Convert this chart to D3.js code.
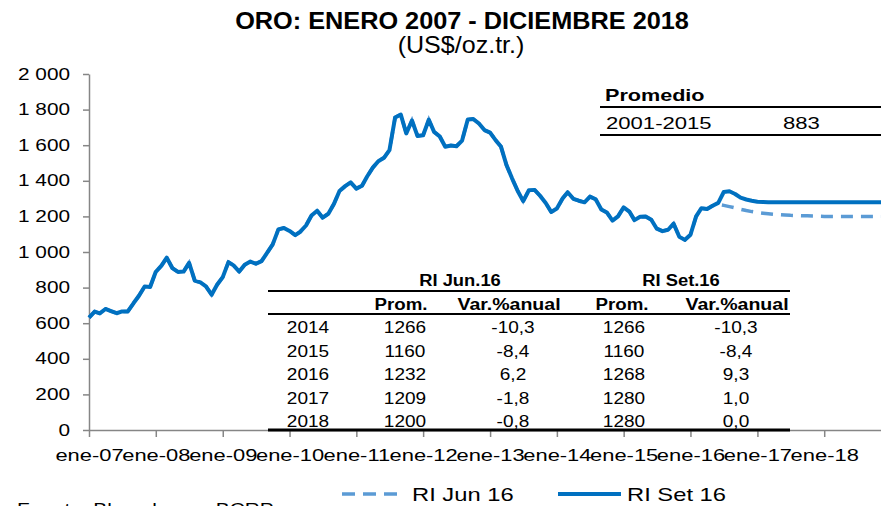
<!DOCTYPE html>
<html>
<head>
<meta charset="utf-8">
<script src="https://cdn.jsdelivr.net/npm/d3@7"></script>
<style>
body { margin: 0; background: #fff; }
svg { display: block; }
text { font-family: "Liberation Sans", Arial, sans-serif; fill: #000; }
</style>
</head>
<body>
<div id="chart"></div>
<script>
// monthly gold price, ene-07 .. ago-16 (observed)
const history = [
  631, 665, 655, 680, 668, 656, 666, 666, 712, 754, 806, 803,
  889, 923, 968, 909, 888, 890, 939, 839, 829, 807, 760, 816,
  859, 943, 925, 890, 928, 946, 934, 949, 996, 1043, 1127, 1135,
  1118, 1095, 1114, 1149, 1205, 1232, 1193, 1215, 1271, 1343, 1370, 1391,
  1356, 1372, 1424, 1474, 1510, 1529, 1572, 1756, 1772, 1666, 1739, 1652,
  1656, 1743, 1675, 1649, 1591, 1598, 1594, 1626, 1744, 1747, 1722, 1685,
  1671, 1627, 1593, 1487, 1414, 1343, 1286, 1347, 1349, 1316, 1275, 1225,
  1244, 1300, 1336, 1299, 1288, 1279, 1311, 1296, 1239, 1222, 1176, 1200,
  1251, 1227, 1179, 1198, 1199, 1181, 1131, 1117, 1125, 1159, 1086, 1068,
  1097, 1200, 1246, 1242, 1260, 1276, 1337, 1341
];
// RI Jun 16 forecast, jun-16 .. dic-18
const forecastJun = [
  1268, 1262, 1255, 1248, 1240, 1233, 1227,
  1222, 1218, 1215, 1212, 1210, 1208, 1206, 1205, 1204, 1203, 1202, 1201,
  1200, 1200, 1200, 1200, 1200, 1200, 1200, 1200, 1200, 1200, 1200, 1200
];
// RI Set 16 forecast, set-16 .. dic-18
const forecastSet = [
  1326, 1305, 1295, 1288,
  1282, 1281, 1280, 1280, 1280, 1280, 1280, 1280, 1280, 1280, 1280, 1280,
  1280, 1280, 1280, 1280, 1280, 1280, 1280, 1280, 1280, 1280, 1280, 1280
];
const junStart = 113;   // jun-16
const setStart = 116;   // set-16

const yTicks = [0, 200, 400, 600, 800, 1000, 1200, 1400, 1600, 1800, 2000];
const xTickYears = [2007, 2008, 2009, 2010, 2011, 2012, 2013, 2014, 2015, 2016, 2017, 2018];

const tableYears = ["2014", "2015", "2016", "2017", "2018"];
const promJun = ["1266", "1160", "1232", "1209", "1200"];
const varJun = ["-10,3", "-8,4", "6,2", "-1,8", "-0,8"];
const promSet = ["1266", "1160", "1268", "1280", "1280"];
const varSet = ["-10,3", "-8,4", "9,3", "1,0", "0,0"];

const promedioLabel = "2001-2015";
const promedioValue = "883";

const width = 881, height = 506;
const blueSolid = "#0070c0", blueDash = "#5b9bd5", axisGray = "#868686";

const start = new Date(2007, 0, 1);
const monthDate = i => d3.timeMonth.offset(start, i);

const serieJun = history.slice(0, junStart).map((v, i) => ({ d: monthDate(i), v: v }))
  .concat(forecastJun.map((v, i) => ({ d: monthDate(junStart + i), v: v })));
const serieSet = history.slice(0, setStart).map((v, i) => ({ d: monthDate(i), v: v }))
  .concat(forecastSet.map((v, i) => ({ d: monthDate(setStart + i), v: v })));

let x = d3.scaleTime()
  .domain([start, new Date(2019, 0, 1)])
  .range([89, 891]);
let y = d3.scaleLinear()
  .domain([0, 2000])
  .range([430, 74]);

const svg = d3.select("#chart").append("svg")
  .attr("width", width)
  .attr("height", height);

// text helper: the original fonts are drawn wider than normal
function label(str, px, py, o) {
  return svg.append("text")
    .attr("transform", `translate(${px},${py}) scale(${o.sx || 1},1)`)
    .attr("text-anchor", o.anchor || "start")
    .style("font-size", o.size + "px")
    .style("font-weight", o.bold ? "bold" : "normal")
    .text(str);
}

// title
label("ORO: ENERO 2007 - DICIEMBRE 2018", 462, 29, { size: 23, bold: true, sx: 1.1, anchor: "middle" });
label("(US$/oz.tr.)", 461, 53, { size: 23, sx: 1.09, anchor: "middle" });

// axes
const locale = d3.formatLocale({ decimal: ",", thousands: " ", grouping: [3], currency: ["", ""] });
const fmt = locale.format(",d");

let gy = svg.append("g")
  .attr("transform", "translate(89,0)")
  .call(d3.axisLeft(y).tickValues(yTicks).tickSize(6).tickSizeOuter(0).tickFormat(fmt));
gy.select(".domain").attr("stroke", axisGray).attr("stroke-width", 1.5);
gy.selectAll(".tick line").attr("stroke", axisGray).attr("stroke-width", 1.5);
gy.selectAll(".tick text")
  .attr("x", -14.6)
  .attr("transform", "scale(1.3,1)")
  .attr("fill", "#000")
  .style("font-family", "'Liberation Sans', Arial, sans-serif")
  .style("font-size", "16px");

let gx = svg.append("g")
  .attr("transform", "translate(0,430)")
  .call(d3.axisBottom(x)
    .tickValues(xTickYears.map(yr => new Date(yr, 0, 1)))
    .tickSize(7).tickSizeOuter(0)
    .tickFormat(d => "ene-" + d3.timeFormat("%y")(d)));
gx.select(".domain").attr("stroke", axisGray).attr("stroke-width", 1.5);
gx.selectAll(".tick line").attr("stroke", axisGray).attr("stroke-width", 1.5);
gx.selectAll(".tick text")
  .attr("y", 20)
  .attr("transform", "scale(1.37,1)")
  .attr("fill", "#000")
  .style("font-family", "'Liberation Sans', Arial, sans-serif")
  .style("font-size", "16px");

// lines
let line = d3.line()
  .x(d => x(d.d))
  .y(d => y(d.v));

svg.append("path")
  .datum(serieJun)
  .attr("fill", "none")
  .attr("stroke", blueDash)
  .attr("stroke-width", 3.5)
  .attr("stroke-dasharray", "12,8")
  .attr("d", line);

svg.append("path")
  .datum(serieSet)
  .attr("fill", "none")
  .attr("stroke", blueSolid)
  .attr("stroke-width", 4)
  .attr("stroke-linejoin", "round")
  .attr("d", line);

// promedio box
label("Promedio", 605, 101, { size: 17, bold: true, sx: 1.27 });
svg.append("line").attr("x1", 600).attr("x2", 881).attr("y1", 107).attr("y2", 107)
  .attr("stroke", "#000").attr("stroke-width", 2);
label(promedioLabel, 606, 129, { size: 17, sx: 1.3 });
label(promedioValue, 783, 129, { size: 17, sx: 1.3 });
svg.append("line").attr("x1", 600).attr("x2", 881).attr("y1", 135).attr("y2", 135)
  .attr("stroke", "#000").attr("stroke-width", 2);

// forecast table
const tx0 = 268, tx1 = 790;
const colX = [308, 405, 513, 624, 736];
label("RI Jun.16", 460, 286, { size: 17, bold: true, sx: 1.08, anchor: "middle" });
label("RI Set.16", 681, 286, { size: 17, bold: true, sx: 1.08, anchor: "middle" });
svg.append("line").attr("x1", tx0).attr("x2", tx1).attr("y1", 291).attr("y2", 291)
  .attr("stroke", "#000").attr("stroke-width", 2);
label("Prom.", 401, 310, { size: 17, bold: true, sx: 1.1, anchor: "middle" });
label("Var.%anual", 509, 310, { size: 17, bold: true, sx: 1.15, anchor: "middle" });
label("Prom.", 622, 310, { size: 17, bold: true, sx: 1.1, anchor: "middle" });
label("Var.%anual", 737, 310, { size: 17, bold: true, sx: 1.15, anchor: "middle" });
svg.append("line").attr("x1", tx0).attr("x2", tx1).attr("y1", 314).attr("y2", 314)
  .attr("stroke", "#000").attr("stroke-width", 2);

const rowY = [333, 356.5, 380, 404, 427];
const cols = [tableYears, promJun, varJun, promSet, varSet];
cols.forEach((col, c) => {
  col.forEach((t, r) => {
    label(t, colX[c], rowY[r], { size: 17, sx: 1.12, anchor: "middle" });
  });
});
svg.append("line").attr("x1", tx0).attr("x2", tx1).attr("y1", 430).attr("y2", 430)
  .attr("stroke", "#000").attr("stroke-width", 3);

// legend
svg.append("line").attr("x1", 342).attr("x2", 405).attr("y1", 494).attr("y2", 494)
  .attr("stroke", blueDash).attr("stroke-width", 3.5).attr("stroke-dasharray", "13,8");
label("RI Jun 16", 412, 501, { size: 19, sx: 1.25 });
svg.append("line").attr("x1", 558).attr("x2", 621).attr("y1", 494).attr("y2", 494)
  .attr("stroke", blueSolid).attr("stroke-width", 4);
label("RI Set 16", 627, 501, { size: 19, sx: 1.25 });

// source, cut by the bottom edge as in the original
label("Fuente: Bloomberg y BCRP", 17, 515, { size: 16, sx: 1.3 });
</script>
</body>
</html>
